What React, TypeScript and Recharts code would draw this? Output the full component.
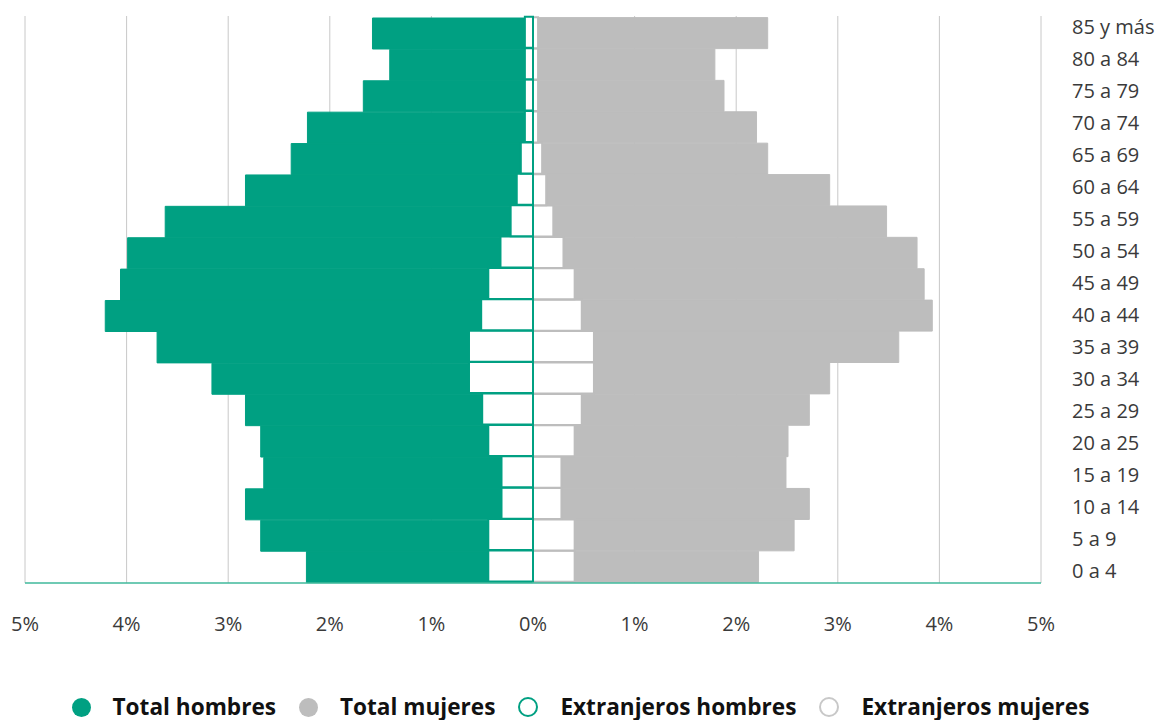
import React from "react";
import { BarChart, Bar, XAxis, YAxis, CartesianGrid, Legend } from "recharts";

const ages = ["0 a 4", "5 a 9", "10 a 14", "15 a 19", "20 a 25", "25 a 29", "30 a 34", "35 a 39", "40 a 44", "45 a 49", "50 a 54", "55 a 59", "60 a 64", "65 a 69", "70 a 74", "75 a 79", "80 a 84", "85 y más"];
const totalHombres = [2.23, 2.68, 2.83, 2.65, 2.68, 2.83, 3.16, 3.70, 4.21, 4.06, 3.99, 3.62, 2.83, 2.38, 2.22, 1.67, 1.41, 1.58];
const totalMujeres = [2.22, 2.57, 2.72, 2.49, 2.51, 2.72, 2.92, 3.60, 3.93, 3.85, 3.78, 3.48, 2.92, 2.31, 2.20, 1.88, 1.79, 2.31];
const extHombres = [0.44, 0.44, 0.31, 0.31, 0.44, 0.50, 0.63, 0.63, 0.51, 0.44, 0.32, 0.22, 0.16, 0.12, 0.08, 0.08, 0.08, 0.08];
const extMujeres = [0.41, 0.41, 0.28, 0.28, 0.41, 0.48, 0.60, 0.60, 0.48, 0.41, 0.30, 0.20, 0.13, 0.09, 0.05, 0.05, 0.05, 0.05];
const xTicks = [-5, -4, -3, -2, -1, 0, 1, 2, 3, 4, 5];
const seriesNames = ["Total hombres", "Total mujeres", "Extranjeros hombres", "Extranjeros mujeres"];

const TEAL = "#00A082";
const GREY = "#BDBDBD";

const data = ages.map((age, i) => ({
  age,
  th: -totalHombres[i],
  tm: totalMujeres[i],
  eh: -extHombres[i],
  em: extMujeres[i],
}));

const legendItems = [
  { name: seriesNames[0], color: TEAL, hollow: false },
  { name: seriesNames[1], color: GREY, hollow: false },
  { name: seriesNames[2], color: TEAL, hollow: true },
  { name: seriesNames[3], color: "#C8C8C8", hollow: true },
];

const LegendContent = () => (
  <div style={{ display: "flex", justifyContent: "center", alignItems: "center", height: 26, gap: 23 }}>
    {legendItems.map((it) => (
      <div key={it.name} style={{ display: "flex", alignItems: "center" }}>
        <span
          style={{
            display: "inline-block",
            boxSizing: "border-box",
            width: it.hollow ? 20 : 19,
            height: it.hollow ? 20 : 19,
            borderRadius: "50%",
            background: it.hollow ? "#fff" : it.color,
            border: it.hollow ? `2.5px solid ${it.color}` : "none",
          }}
        />
        <span
          style={{
            marginLeft: 22,
            fontFamily: "'Open Sans', sans-serif",
            fontWeight: 700,
            fontSize: 22.6,
            color: "#111",
            lineHeight: "26px",
            whiteSpace: "nowrap",
          }}
        >
          {it.name}
        </span>
      </div>
    ))}
  </div>
);

export default function App() {
  return (
    <div style={{ position: "absolute", left: 8, top: 8, width: 1153, height: 712 }}>
      <BarChart
        width={1153}
        height={712}
        data={data}
        layout="vertical"
        margin={{ top: 8, left: 17, right: 0, bottom: 51 }}
        barCategoryGap={0}
        barGap="-100%"
        style={{ overflow: "visible" }}
      >
        <CartesianGrid horizontal={false} vertical={true} stroke="#C8C8C8" />
        <XAxis
          type="number"
          domain={[-5, 5]}
          ticks={xTicks}
          interval={0}
          tickFormatter={(v: number) => `${Math.abs(v)}%`}
          axisLine={{ stroke: "#3FB89B", strokeWidth: 1.5 }}
          tickLine={false}
          tickSize={0}
          tickMargin={34}
          height={60}
          tick={{ fontSize: 20, fill: "#3A3A3A", fontFamily: "'Open Sans', sans-serif" }}
        />
        <YAxis
          type="category"
          dataKey="age"
          reversed
          hide
          width={0}
          orientation="left"
          padding={{ top: 2, bottom: 0 }}
        />
        <YAxis
          yAxisId="labels"
          type="category"
          dataKey="age"
          reversed
          orientation="right"
          width={120}
          interval={0}
          axisLine={false}
          tickLine={false}
          tickSize={0}
          tickMargin={31}
          padding={{ top: -5, bottom: -4 }}
          tick={{ fontSize: 20, fill: "#3A3A3A", fontFamily: "'Open Sans', sans-serif", textAnchor: "start" }}
        />
        <Bar dataKey="th" name={seriesNames[0]} fill={TEAL} stroke={TEAL} strokeWidth={1} isAnimationActive={false} />
        <Bar dataKey="tm" name={seriesNames[1]} fill={GREY} stroke={GREY} strokeWidth={1} isAnimationActive={false} />
        <Bar dataKey="em" name={seriesNames[3]} fill="#FFFFFF" stroke={GREY} strokeWidth={2} isAnimationActive={false} />
        <Bar dataKey="eh" name={seriesNames[2]} fill="#FFFFFF" stroke={TEAL} strokeWidth={2} isAnimationActive={false} />
        <Legend
          verticalAlign="bottom"
          content={<LegendContent />}
          wrapperStyle={{ top: 686, bottom: "auto", left: 0, width: 1145, height: 26 }}
        />
      </BarChart>
    </div>
  );
}
